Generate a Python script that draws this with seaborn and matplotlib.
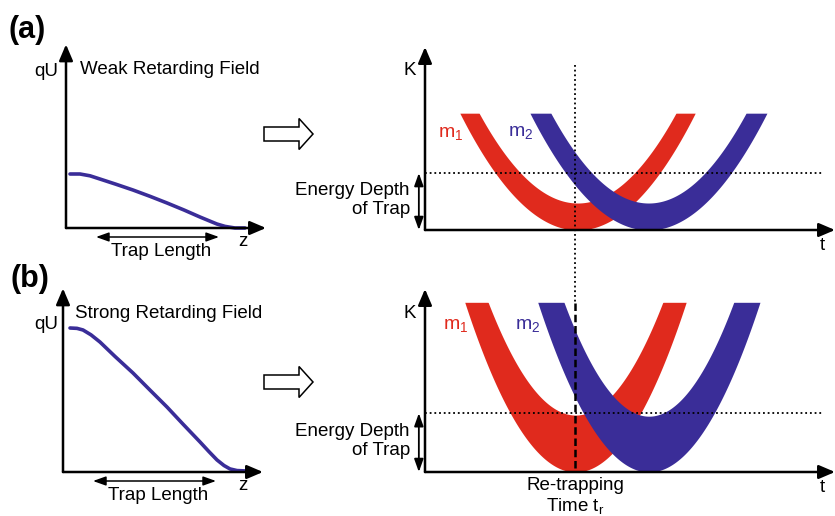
import numpy as np
import matplotlib
matplotlib.use('Agg')
import matplotlib.pyplot as plt
import seaborn as sns
from matplotlib.patches import FancyArrow

sns.set_theme(style='white')
plt.rcParams['font.family'] = ['Liberation Sans', 'DejaVu Sans']
plt.rcParams['text.color'] = 'black'
plt.rcParams['mathtext.fontset'] = 'custom'
plt.rcParams['mathtext.rm'] = 'Liberation Sans'
plt.rcParams['mathtext.it'] = 'Liberation Sans'

# retarding potential along the trap (z, qU, arbitrary units)
weak_z = [0.2, 0.7, 1.2, 1.7, 2.5, 3.35, 4.2, 5.05, 5.9, 6.7, 7.2, 7.55, 7.95, 8.45, 8.95]
weak_qu = [3.0, 3.0, 2.9, 2.72, 2.43, 2.11, 1.76, 1.39, 1.0, 0.61, 0.38, 0.22, 0.09, 0.0, 0.0]
strong_z = [0.35, 0.7, 1.0, 1.4, 1.85, 2.6, 3.5, 4.35, 5.2, 6.0, 6.85, 7.3, 7.7, 8.05, 8.35, 8.7, 9.1]
strong_qu = [8.0, 7.98, 7.89, 7.62, 7.22, 6.42, 5.5, 4.55, 3.61, 2.66, 1.67, 1.13, 0.67, 0.36, 0.17, 0.08, 0.06]

# kinetic energy bands K(t) for the two masses
band_labels = [r'$\mathregular{m_1}$', r'$\mathregular{m_2}$']
band_colors = ['#e02a1d', '#3a2d98']
weak_center = [3.72, 5.45]
weak_outer_half = [2.87, 2.89]
weak_inner_half = [2.40, 2.38]
weak_inner_min = [0.73, 0.73]
weak_top = 3.16
strong_center = [3.67, 5.46]
strong_outer_half = [2.70, 2.71]
strong_inner_half = [2.13, 2.07]
strong_inner_min = [1.54, 1.51]
strong_top = 4.59

trap_depth = [1.54, 1.59]
retrap_t = 3.66

W, H = 835, 516
fig = plt.figure(figsize=(W / 100, H / 100), dpi=100)
fig.patch.set_facecolor('white')


def px_axes(x0, y0, w, h):
    ax = fig.add_axes([x0 / W, (H - y0) / H, w / W, h / H])
    ax.patch.set_visible(False)
    for s in ax.spines.values():
        s.set_visible(False)
    ax.set_xticks([])
    ax.set_yticks([])
    ax.grid(False)
    return ax


def arrow_axes(ax):
    x0, x1 = ax.get_xlim()
    y0, y1 = ax.get_ylim()
    kw = dict(arrowstyle='-|>,head_length=0.75,head_width=0.32', color='black',
              lw=1.8, mutation_scale=13, shrinkA=0, shrinkB=0)
    ax.annotate('', xy=(x1, y0), xytext=(x0, y0), arrowprops=kw, annotation_clip=False)
    ax.annotate('', xy=(x0, y1), xytext=(x0, y0), arrowprops=kw, annotation_clip=False)


def double_arrow(ax, p0, p1, lw=1.1):
    ax.annotate('', xy=p1, xytext=p0,
                arrowprops=dict(arrowstyle='<|-|>,head_length=0.7,head_width=0.25',
                                color='black', lw=lw, mutation_scale=11,
                                shrinkA=0, shrinkB=0),
                annotation_clip=False)


def draw_band(ax, c, h_out, h_in, k_in, top, color):
    t = np.linspace(c - h_out, c + h_out, 500)
    outer = top * ((t - c) / h_out) ** 2
    inner = np.minimum(k_in + (top - k_in) * ((t - c) / h_in) ** 2, top)
    ax.fill_between(t, outer, inner, color=color, lw=0, zorder=2)


fs = 13.5

# ---------- left panels: potentials ----------
for row, (zs, qs, x0, y0, title) in enumerate([
        (weak_z, weak_qu, 66, 228, 'Weak Retarding Field'),
        (strong_z, strong_qu, 63, 472, 'Strong Retarding Field')]):
    ax = px_axes(x0, y0, 200, 183.6)
    ax.set_xlim(0, 10)
    ax.set_ylim(0, 10.2)
    sns.lineplot(x=zs, y=qs, sort=False, color='#3a2d98', lw=2.6, ax=ax,
                 solid_capstyle='round', solid_joinstyle='round', clip_on=False, zorder=3)
    arrow_axes(ax)
    ax.text(-0.4 if row == 0 else -0.25, 8.67 if row == 0 else 8.17, 'qU',
            ha='right', va='center', fontsize=fs)
    ax.text(0.7 if row == 0 else 0.6, 8.78 if row == 0 else 8.83, title,
            ha='left', va='center', fontsize=fs)
    ax.text(8.85 if row == 0 else 9.0, -0.75, 'z', ha='center', va='center', fontsize=fs)
    double_arrow(ax, (1.5, -0.5), (7.65, -0.5))
    ax.text(4.75, -1.3, 'Trap Length', ha='center', va='center', fontsize=fs)

# ---------- right panels: K vs t ----------
panels = [
    (230, weak_center, weak_outer_half, weak_inner_half, weak_inner_min, weak_top,
     [(0.32, 2.62), (2.02, 2.65)]),
    (472, strong_center, strong_outer_half, strong_inner_half, strong_inner_min, strong_top,
     [(0.44, 3.97), (2.2, 3.95)]),
]
right_axes = []
for row, (y0, cs, ho, hi, kmin, top, lab_pos) in enumerate(panels):
    ax = px_axes(425, y0, 410, 183)
    ax.set_xlim(0, 10)
    ax.set_ylim(0, 4.95)
    for i in range(2):
        draw_band(ax, cs[i], ho[i], hi[i], kmin[i], top, band_colors[i])
        ax.text(lab_pos[i][0], lab_pos[i][1], band_labels[i], color=band_colors[i],
                ha='left', va='center', fontsize=fs + 0.5)
    ax.plot([0, 9.68], [trap_depth[row], trap_depth[row]], color='black', lw=1.3,
            ls=(0, (1, 1.6)), zorder=4, clip_on=False)
    arrow_axes(ax)
    double_arrow(ax, (-0.15, 0), (-0.15, trap_depth[row]), lw=1.3)
    ax.text(-0.37, trap_depth[row] / 2 + 0.05, 'Energy Depth\nof Trap', ha='right',
            va='center', multialignment='right', fontsize=fs, linespacing=1.15)
    ax.text(-0.37, 4.32 if row == 0 else 4.3, 'K', ha='center', va='center', fontsize=fs)
    ax.text(9.68, -0.41, 't', ha='center', va='center', fontsize=fs)
    right_axes.append(ax)

# re-trapping time markers
right_axes[0].plot([retrap_t, retrap_t], [4.46, -1.97], color='black', lw=1.3,
                   ls=(0, (1, 1.6)), zorder=4, clip_on=False)
right_axes[1].plot([retrap_t, retrap_t], [4.57, 0], color='black', lw=1.8,
                   ls=(0, (3, 1.5)), zorder=4, clip_on=False)
right_axes[1].text(retrap_t, -0.66, 'Re-trapping\n' + r'Time $\mathregular{t_r}$',
                   ha='center', va='center', fontsize=fs, linespacing=1.1)

# block arrows between panels
for yc in [134, 382]:
    fig.add_artist(FancyArrow(2.64, (H - yc) / 100, 0.49, 0, width=0.14, head_width=0.31,
                              head_length=0.14, length_includes_head=True, fc='white',
                              ec='black', lw=1.1, transform=fig.dpi_scale_trans))

fig.text(9 / W, 1 - 30 / H, '(a)', fontsize=22, fontweight='bold', ha='left', va='center')
fig.text(11 / W, 1 - 279 / H, '(b)', fontsize=22, fontweight='bold', ha='left', va='center')

fig.savefig('out.png', dpi=100)
